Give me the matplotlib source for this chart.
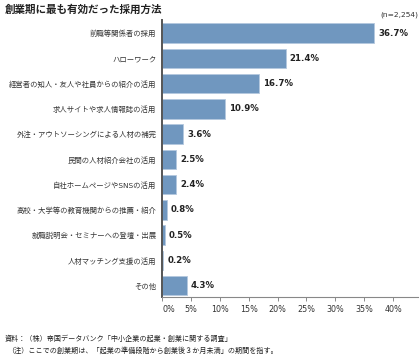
import matplotlib
matplotlib.use('Agg')
import matplotlib.pyplot as plt
import matplotlib.transforms as mtransforms

plt.rcParams['font.family'] = ['DejaVu Sans', 'Noto Sans CJK JP']

# 採用方法と割合(%)
metodos = ['前職等関係者の採用', 'ハローワーク', '経営者の知人・友人や社員からの紹介の活用',
           '求人サイトや求人情報誌の活用', '外注・アウトソーシングによる人材の補完',
           '民間の人材紹介会社の活用', '自社ホームページやSNSの活用',
           '高校・大学等の教育機関からの推薦・紹介', '就職説明会・セミナーへの登壇・出展',
           '人材マッチング支援の活用', 'その他']
valores = [36.7, 21.4, 16.7, 10.9, 3.6, 2.5, 2.4, 0.8, 0.5, 0.2, 4.3]
ticks_x = [0, 5, 10, 15, 20, 25, 30, 35, 40]

W, H = 420, 356
fig = plt.figure(figsize=(W / 100, H / 100), dpi=100)
ax = fig.add_axes([162 / W, 1 - 297 / H, (418 - 162) / W, (297 - 20) / H])

color_barra = '#7097bf'
posiciones = list(range(len(metodos)))
ax.barh(posiciones, valores, height=0.78, color=color_barra,
        edgecolor='#b4c8de', linewidth=0.6)

for p, v in zip(posiciones, valores):
    ax.annotate(f'{v}%', (v, p), xytext=(3, 0), textcoords='offset points',
                va='center', ha='left', fontsize=6.2, fontweight='bold', color='#222222')

ax.set_xlim(0, 44.3)
ax.set_ylim(10.45, -0.52)
ax.set_yticks(posiciones)
ax.set_yticklabels(metodos, fontsize=5.3, color='#333333')
ax.set_xticks(ticks_x)
ax.set_xticklabels([f'{t}%' for t in ticks_x], fontsize=5.8, color='#333333')
ax.tick_params(axis='y', length=0, pad=4)
ax.tick_params(axis='x', length=3, width=0.6, color='#777777', pad=3)

# la etiqueta 0% está algo desplazada a la derecha
lbl0 = ax.get_xticklabels()[0]
lbl0.set_transform(lbl0.get_transform() +
                   mtransforms.ScaledTranslation(7 / 100, 0, fig.dpi_scale_trans))

for s in ['top', 'right']:
    ax.spines[s].set_visible(False)
ax.spines['left'].set_color('#555555')
ax.spines['left'].set_linewidth(1.4)
ax.spines['bottom'].set_color('#888888')
ax.spines['bottom'].set_linewidth(0.8)

fig.text(5 / W, 1 - 10 / H, '創業期に最も有効だった採用方法', fontsize=7.6,
         fontweight='bold', va='center', ha='left', color='#222222')
fig.text(418 / W, 1 - 15 / H, '(n=2,254)', fontsize=5.4, va='center', ha='right',
         color='#333333')
fig.text(5 / W, 1 - 338 / H, '資料：（株）帝国データバンク「中小企業の起業・創業に関する調査」',
         fontsize=5.1, va='center', ha='left', color='#222222')
fig.text(7 / W, 1 - 350 / H, '（注）ここでの創業期は、「起業の準備段階から創業後３か月未満」の期間を指す。',
         fontsize=5.1, va='center', ha='left', color='#222222')

fig.savefig('out.png', dpi=100)
